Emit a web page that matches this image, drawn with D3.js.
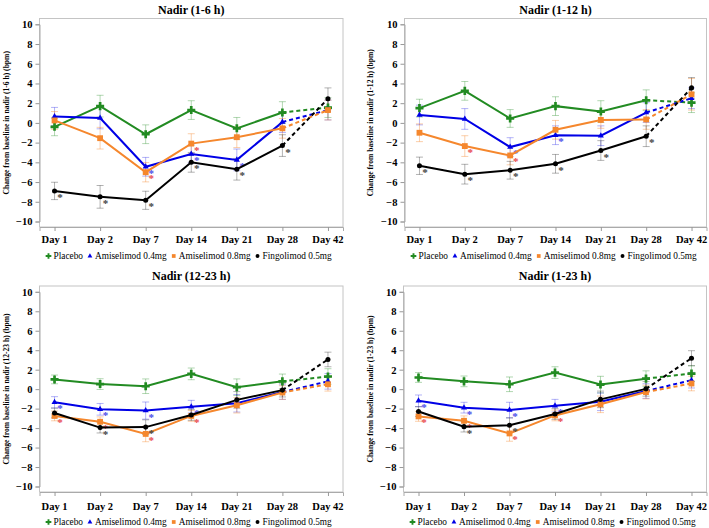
<!DOCTYPE html>
<html>
<head>
<meta charset="utf-8">
<script src="https://cdn.jsdelivr.net/npm/d3@7"></script>
<style>
  body { margin: 0; background: #fff; }
</style>
</head>
<body>
<div id="chart"></div>
<script>
// categories
const days = ["Day 1", "Day 2", "Day 7", "Day 14", "Day 21", "Day 28", "Day 42"];
const groups = ["Placebo", "Amiselimod 0.4mg", "Amiselimod 0.8mg", "Fingolimod 0.5mg"];
const yTicks = [-10, -8, -6, -4, -2, 0, 2, 4, 6, 8, 10];
const titles = ["Nadir (1-6 h)", "Nadir (1-12 h)", "Nadir (12-23 h)", "Nadir (1-23 h)"];
const yTitles = [
    "Change from baseline in nadir (1-6 h) (bpm)",
    "Change from baseline in nadir (1-12 h) (bpm)",
    "Change from baseline in nadir (12-23 h) (bpm)",
    "Change from baseline in nadir (1-23 h) (bpm)"
];

// means (rows: placebo, ami 0.4, ami 0.8, fingo)
const mean16 = [
    [-0.4, 1.7, -1.15, 1.3, -0.55, 1.05, 1.55],
    [0.65, 0.5, -4.45, -3.15, -3.75, 0.08, 1.3],
    [0.25, -1.55, -5.0, -2.1, -1.45, -0.55, 1.3],
    [-6.9, -7.5, -7.85, -4.0, -4.7, -2.3, 2.45]
];
const se16 = [
    [0.9, 1.1, 0.95, 0.95, 1.1, 1.1, 1.0],
    [0.92, 1.1, 0.95, 0.9, 1.1, 1.05, 1.0],
    [0.9, 1.1, 0.98, 1.0, 1.05, 1.0, 1.0],
    [0.88, 1.15, 0.92, 1.0, 1.1, 1.1, 1.1]
];
const star16 = [[], [2, 3, 4], [2, 3], [0, 1, 2, 3, 4, 5]];

const mean112 = [
    [1.5, 3.25, 0.45, 1.7, 1.15, 2.3, 2.05],
    [0.8, 0.4, -2.45, -1.25, -1.3, 1.05, 2.5],
    [-1.0, -2.35, -3.3, -0.7, 0.3, 0.35, 2.9],
    [-4.35, -5.2, -4.8, -4.15, -2.8, -1.35, 3.55]
];
const se112 = [
    [0.9, 0.95, 0.9, 0.95, 1.1, 1.05, 1.0],
    [1.0, 1.05, 0.95, 0.95, 1.0, 1.0, 1.05],
    [0.9, 1.05, 0.95, 0.95, 0.85, 1.0, 1.6],
    [0.88, 1.0, 0.9, 0.95, 1.0, 1.05, 1.05]
];
const star112 = [[], [2, 3], [1, 2], [0, 1, 2, 3, 4, 5]];

const mean1223 = [
    [1.0, 0.52, 0.3, 1.57, 0.2, 0.8, 1.3],
    [-1.35, -2.07, -2.2, -1.8, -1.45, -0.3, 0.8],
    [-2.75, -3.35, -4.6, -2.75, -1.65, -0.35, 0.5],
    [-2.45, -3.95, -3.9, -2.65, -1.1, -0.1, 3.05]
];
const se1223 = [
    [0.45, 0.55, 0.75, 0.6, 0.85, 0.75, 0.8],
    [0.58, 0.6, 0.88, 0.65, 0.9, 0.75, 0.8],
    [0.5, 0.5, 0.8, 0.55, 0.8, 0.7, 0.7],
    [0.5, 0.55, 0.75, 0.55, 0.85, 0.7, 0.75]
];
const star1223 = [[], [0, 1, 2, 3], [0, 1, 2, 3], [1, 2]];

const mean123 = [
    [1.2, 0.8, 0.5, 1.7, 0.47, 1.08, 1.6],
    [-1.2, -1.9, -2.15, -1.7, -1.3, -0.2, 0.92],
    [-2.8, -3.25, -4.55, -2.7, -1.56, -0.3, 0.58],
    [-2.3, -3.85, -3.7, -2.55, -1.05, 0.03, 3.18]
];
const se123 = [
    [0.5, 0.55, 0.75, 0.6, 0.85, 0.8, 0.8],
    [0.6, 0.55, 0.8, 0.65, 0.9, 0.75, 0.8],
    [0.5, 0.5, 0.8, 0.55, 0.85, 0.7, 0.75],
    [0.5, 0.55, 0.75, 0.55, 0.85, 0.75, 0.77]
];
const star123 = [[], [0, 1, 2, 3], [0, 1, 2, 3], [1, 2]];

// styles
const serif = '"Liberation Serif", "Times New Roman", serif';
const colors = ["#228b22", "#0000e6", "#f5872d", "#000000"];
const barColors = ["rgba(34,139,34,0.35)", "rgba(0,0,230,0.3)", "rgba(245,135,45,0.4)", "rgba(0,0,0,0.3)"];
const starColors = ["#228b22", "#4b4be8", "#e8474b", "#444444"];
const symbols = [d3.symbolCross, d3.symbolTriangle, d3.symbolSquare, d3.symbolCircle];
const symSize = [36, 16, 34, 20];
const legSize = [18, 10, 14, 12];

// layout of the four panels
const panels = [
    {mean: mean16, se: se16, star: star16, left: 39.5, right: 343, top: 18.5, bottom: 227, titleY: 14, labY: 243, legY: 256, yTitleX: 9},
    {mean: mean112, se: se112, star: star112, left: 404.5, right: 706.5, top: 18.5, bottom: 227, titleY: 14, labY: 243, legY: 256, yTitleX: 373},
    {mean: mean1223, se: se1223, star: star1223, left: 39.5, right: 343, top: 286, bottom: 492, titleY: 280, labY: 510, legY: 522, yTitleX: 9},
    {mean: mean123, se: se123, star: star123, left: 403.5, right: 706.5, top: 286, bottom: 492, titleY: 280, labY: 510, legY: 522, yTitleX: 373}
];

const svg = d3.select('#chart').append('svg')
    .attr('width', 709)
    .attr('height', 528);

panels.forEach((p, pi) => {
    const g = svg.append('g');

    const x = d3.scalePoint()
        .domain(days)
        .range([p.left, p.right])
        .padding(0.33);
    const y = d3.scaleLinear()
        .domain([-10, 10])
        .range([p.bottom - 5.5, p.top + 5.8]);

    // frame
    g.append('rect')
        .attr('x', p.left).attr('y', p.top)
        .attr('width', p.right - p.left).attr('height', p.bottom - p.top)
        .attr('fill', 'none')
        .attr('stroke', '#c4c4c4')
        .attr('stroke-width', 1);

    // y axis
    const yAxis = d3.axisLeft(y).tickValues(yTicks).tickSize(4).tickPadding(3);
    const ya = g.append('g')
        .attr('transform', `translate(${p.left},0)`)
        .call(yAxis);
    ya.select('.domain').attr('stroke', '#aaa');
    ya.selectAll('.tick line').attr('stroke', '#999');
    ya.selectAll('.tick text')
        .style('font-family', serif)
        .style('font-weight', 'bold')
        .style('font-size', '10.5px')
        .attr('fill', '#000');

    // x axis
    const xAxis = d3.axisBottom(x).tickSize(4).tickFormat('');
    const xa = g.append('g')
        .attr('transform', `translate(0,${p.bottom})`)
        .call(xAxis);
    xa.select('.domain').attr('stroke', '#aaa');
    xa.selectAll('.tick line').attr('stroke', '#999');
    g.append('g').selectAll('text')
        .data(days)
        .enter()
        .append('text')
        .attr('x', d => x(d))
        .attr('y', p.labY)
        .attr('text-anchor', 'middle')
        .style('font-family', serif)
        .style('font-weight', 'bold')
        .style('font-size', '10.5px')
        .text(d => d);

    // titles
    g.append('text')
        .attr('x', (p.left + p.right) / 2)
        .attr('y', p.titleY)
        .attr('text-anchor', 'middle')
        .style('font-family', serif)
        .style('font-weight', 'bold')
        .style('font-size', '12px')
        .text(titles[pi]);

    g.append('text')
        .attr('transform', `translate(${p.yTitleX},${(p.top + p.bottom) / 2}) rotate(-90)`)
        .attr('text-anchor', 'middle')
        .style('font-family', serif)
        .style('font-weight', 'bold')
        .style('font-size', '7.6px')
        .text(yTitles[pi]);

    // error bars
    groups.forEach((grp, gi) => {
        const pts = days.map((d, i) => ({day: d, v: p.mean[gi][i], e: p.se[gi][i]}));
        const eb = g.append('g').attr('stroke', barColors[gi]).attr('stroke-width', 1);
        pts.forEach(pt => {
            const cx = x(pt.day);
            eb.append('line').attr('x1', cx).attr('x2', cx).attr('y1', y(pt.v - pt.e)).attr('y2', y(pt.v + pt.e));
            eb.append('line').attr('x1', cx - 3.5).attr('x2', cx + 3.5).attr('y1', y(pt.v - pt.e)).attr('y2', y(pt.v - pt.e));
            eb.append('line').attr('x1', cx - 3.5).attr('x2', cx + 3.5).attr('y1', y(pt.v + pt.e)).attr('y2', y(pt.v + pt.e));
        });
    });

    // lines, markers, asterisks
    groups.forEach((grp, gi) => {
        const pts = days.map((d, i) => ({day: d, v: p.mean[gi][i]}));
        const line = d3.line().x(d => x(d.day)).y(d => y(d.v));

        g.append('path')
            .attr('d', line(pts.slice(0, 6)))
            .attr('fill', 'none')
            .attr('stroke', colors[gi])
            .attr('stroke-width', 2);
        g.append('path')
            .attr('d', line(pts.slice(5)))
            .attr('fill', 'none')
            .attr('stroke', colors[gi])
            .attr('stroke-width', 2)
            .attr('stroke-dasharray', '4,3');

        g.append('g').selectAll('path')
            .data(pts)
            .enter()
            .append('path')
            .attr('transform', d => `translate(${x(d.day)},${y(d.v)})`)
            .attr('d', d3.symbol().type(symbols[gi]).size(symSize[gi]))
            .attr('fill', colors[gi]);

        g.append('g').selectAll('text')
            .data(p.star[gi])
            .enter()
            .append('text')
            .attr('x', i => x(days[i]) + 5.5)
            .attr('y', i => y(p.mean[gi][i]) + 10)
            .attr('text-anchor', 'middle')
            .style('font-family', serif)
            .style('font-size', '11px')
            .style('font-weight', 'bold')
            .attr('fill', starColors[gi])
            .text('*');
    });

    // legend
    const leg = g.append('g');
    let lx = p.left + 9;
    groups.forEach((grp, gi) => {
        leg.append('path')
            .attr('transform', `translate(${lx},${p.legY})`)
            .attr('d', d3.symbol().type(symbols[gi]).size(legSize[gi]))
            .attr('fill', colors[gi]);
        const t = leg.append('text')
            .attr('x', lx + 5)
            .attr('y', p.legY + 3.3)
            .style('font-family', serif)
            .style('font-size', '9.3px')
            .text(grp);
        lx += 5 + t.node().getComputedTextLength() + 7;
    });
});
</script>
</body>
</html>
